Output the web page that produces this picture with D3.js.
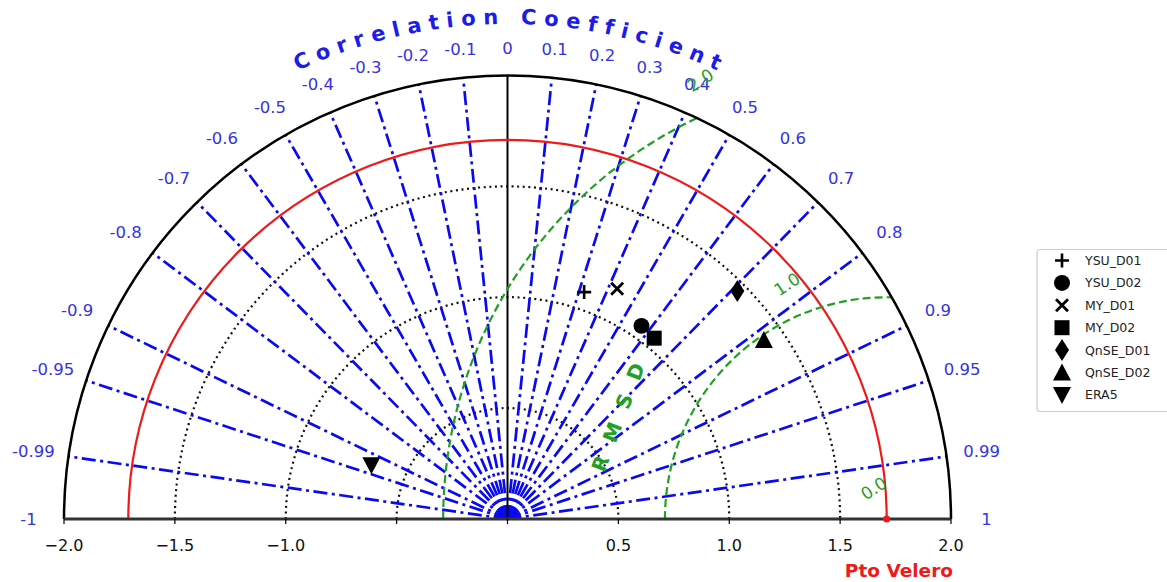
<!DOCTYPE html>
<html><head><meta charset="utf-8">
<script src="https://cdn.jsdelivr.net/npm/d3@7"></script>
<style>body{margin:0;background:#fff}svg{display:block}text{font-family:"DejaVu Sans",sans-serif}</style>
</head><body><svg id="c" width="1167" height="582"></svg>
<script>
// ---------------- data ----------------
const modelNames = ["YSU_D01","YSU_D02","MY_D01","MY_D02","QnSE_D01","QnSE_D02","ERA5"];
const modelMarkers = ["plus","circle","times","square","diamond","triangleUp","triangleDown"];
const modelStd = [1.08,1.06,1.15,1.05,1.46,1.41,0.66];
const modelCorr = [0.32,0.57,0.43,0.63,0.71,0.82,-0.93];
const corrTicks = [-1,-0.99,-0.95,-0.9,-0.8,-0.7,-0.6,-0.5,-0.4,-0.3,-0.2,-0.1,0,0.1,0.2,0.3,0.4,0.5,0.6,0.7,0.8,0.9,0.95,0.99,1];
const stdTicks = [-2,-1.5,-1,-0.5,0,0.5,1,1.5,2];
const stdTickLabels = ["−2.0","−1.5","−1.0","","","0.5","1.0","1.5","2.0"];
const stdGrid = [0.5,1.0,1.5];
const stdMax = 2.0;
const refStd = 1.71;
const refName = "Pto Velero";
const rmsdContours = [1.0,2.0];
const rmsdLabelValues = [0.0,1.0,2.0];
const rmsdLabelTexts = ["0.0","1.0","2.0"];
const axisTitle = "Correlation Coefficient";
const rmsdTitle = "RMSD";

// ---------------- setup ----------------
const svg = d3.select("#c");
const x = d3.scaleLinear().domain([-2,2]).range([64,951]);
const y = d3.scaleLinear().domain([0,2]).range([519,75.5]);
const cx = x(0), cy = y(0);
const R = v => x(v) - x(0);   // radius in px for a std value
const px = (s,c) => x(s*c);
const py = (s,c) => y(s*Math.sqrt(Math.max(0,1-c*c)));

const BLUE = "#0a0af0", BLUE_T = "#3434e4", GREEN = "#22a022", RED = "#ee1a1a";

function semicircle(r){ const p=d3.path(); p.moveTo(cx-R(r),cy); p.arc(cx,cy,R(r),Math.PI,2*Math.PI); return p.toString(); }

// std dotted arcs
svg.selectAll("path.sg").data(stdGrid).join("path").attr("class","sg")
  .attr("d",semicircle).attr("fill","none").attr("stroke","#111")
  .attr("stroke-width",2.2).attr("stroke-dasharray","2,3.6");

// correlation lines
svg.selectAll("line.cl").data(corrTicks.filter(c=>Math.abs(c)<1 && c!==0)).join("line").attr("class","cl")
  .attr("x1",cx).attr("y1",cy).attr("x2",c=>px(stdMax,c)).attr("y2",c=>py(stdMax,c))
  .attr("stroke",BLUE).attr("stroke-width",2.7).attr("stroke-dasharray","14,4.5,3,4.5");
svg.append("line").attr("x1",cx).attr("y1",cy).attr("x2",px(stdMax,0)).attr("y2",py(stdMax,0))
  .attr("stroke","#000").attr("stroke-width",2);

// reference arc
svg.append("path").attr("d",semicircle(refStd)).attr("fill","none").attr("stroke",RED).attr("stroke-width",2.2);

// RMSD contours
const rx = x(refStd);
svg.selectAll("path.rm").data(rmsdContours).join("path").attr("class","rm")
  .attr("d",r=>{
    const xi=(refStd*refStd+stdMax*stdMax-r*r)/(2*refStd);
    const yi=Math.sqrt(stdMax*stdMax-xi*xi);
    const th=Math.atan2(yi, xi-refStd);
    const p=d3.path(); p.moveTo(rx-R(r),cy); p.arc(rx,cy,R(r),Math.PI,2*Math.PI-th); return p.toString();})
  .attr("fill","none").attr("stroke",GREEN).attr("stroke-width",2.2).attr("stroke-dasharray","8,4");

// outer arc
svg.append("path").attr("d",semicircle(stdMax)).attr("fill","none").attr("stroke","#000").attr("stroke-width",2.5);

// baseline axis
svg.append("line").attr("x1",x(-2)).attr("x2",x(2)).attr("y1",cy).attr("y2",cy).attr("stroke","#333").attr("stroke-width",3);
svg.selectAll("line.tk").data(stdTicks).join("line").attr("class","tk")
  .attr("x1",d=>x(d)).attr("x2",d=>x(d)).attr("y1",cy).attr("y2",cy+5).attr("stroke","#000").attr("stroke-width",1.2);
svg.selectAll("text.tl").data(stdTicks).join("text").attr("class","tl")
  .attr("x",d=>x(d)).attr("y",551).attr("text-anchor","middle").attr("font-size",16).attr("fill","#111")
  .text((d,i)=>stdTickLabels[i]);

// ref point + label
svg.append("circle").attr("cx",rx).attr("cy",cy).attr("r",3.5).attr("fill",RED);
svg.append("text").attr("x",953).attr("y",577).attr("text-anchor","end").attr("font-size",18.5)
  .attr("font-weight","bold").attr("fill",RED).text(refName);

// correlation labels
const labR = c => (471 + 8*Math.abs(c)) / R(1);
svg.selectAll("text.cr").data(corrTicks).join("text").attr("class","cr")
  .attr("x",c=>px(labR(c),c)).attr("y",c=>py(labR(c),c)).attr("text-anchor","middle").attr("dominant-baseline","central")
  .attr("font-size",16.5).attr("fill",BLUE_T).text(c=>String(c));

// curved title: each character placed along an arc (as in the original)
const tr = 495, tSize = 21, tSpace = 7.5;
const chars = axisTitle.split("");
const meas = svg.append("text").attr("font-size",tSize).attr("font-weight","bold").attr("visibility","hidden");
const widths = chars.map(ch => { meas.text(ch===" "?"\u00a0":ch); return meas.node().getComputedTextLength(); });
meas.remove();
const totalL = d3.sum(widths) + tSpace*(chars.length-1);
let acc = 0;
const charPos = chars.map((ch,i)=>{ const s = acc + widths[i]/2; acc += widths[i] + tSpace; return {ch, s}; });
const tg = svg.append("g").attr("class","title");
tg.selectAll("text").data(charPos.filter(d=>d.ch!==" ")).join("text")
  .attr("transform",d=>{
    const th = Math.PI/2 + (totalL/2 - d.s)/tr;
    const tx = cx + tr*Math.cos(th), ty = cy - tr*Math.sin(th);
    return `translate(${tx},${ty}) rotate(${90 - th*180/Math.PI})`;})
  .attr("text-anchor","middle").attr("font-size",tSize).attr("font-weight","bold").attr("fill","#1c1ce6")
  .text(d=>d.ch);

// RMSD labels
const la = 113*Math.PI/180;
svg.selectAll("text.rl").data(rmsdLabelValues).join("text").attr("class","rl")
  .attr("transform",v=>{const r=v+0.15; return `translate(${x(refStd+r*Math.cos(la))},${y(r*Math.sin(la))}) rotate(-33)`;})
  .attr("text-anchor","middle").attr("dominant-baseline","central").attr("font-size",17).attr("fill",GREEN)
  .text((v,i)=>rmsdLabelTexts[i]);
svg.append("text").attr("transform","translate(621,410) rotate(-69)").attr("text-anchor","middle")
  .attr("dominant-baseline","central").attr("font-size",20).attr("font-weight","bold").attr("fill",GREEN)
  .attr("letter-spacing",16).text(rmsdTitle);

// markers
function markerPath(t){
  switch(t){
    case "plus": return "M-7,0H7M0,-7V7";
    case "times": return "M-6,-6L6,6M-6,6L6,-6";
    case "circle": return d3.symbol(d3.symbolCircle,200)();
    case "square": return "M-7.5,-7.5H7.5V7.5H-7.5Z";
    case "diamond": return "M0,-11L7,0L0,11L-7,0Z";
    case "triangleUp": return "M0,-9L9,8L-9,8Z";
    case "triangleDown": return "M0,9L9,-8L-9,-8Z";
  }
}
const stroked = t => t==="plus"||t==="times";
function styleMarker(sel){
  sel.attr("d",d=>markerPath(d.m))
    .attr("fill",d=>stroked(d.m)?"none":"#000")
    .attr("stroke",d=>stroked(d.m)?"#000":"none")
    .attr("stroke-width",d=>d.m==="times"?2.8:2.6);
}
const pts = modelNames.map((n,i)=>({n,m:modelMarkers[i],s:modelStd[i],c:modelCorr[i]}));
svg.selectAll("path.mk").data(pts).join("path").attr("class","mk")
  .attr("transform",d=>`translate(${px(d.s,d.c)},${py(d.s,d.c)})`).call(styleMarker);

// legend
const lg = svg.append("g");
lg.append("rect").attr("x",1037).attr("y",249.5).attr("width",140).attr("height",162).attr("rx",3)
  .attr("fill","#fff").attr("stroke","#ccc").attr("stroke-width",1.2);
const ly = i => 260.5 + i*22.4;
lg.selectAll("path").data(pts).join("path")
  .attr("transform",(d,i)=>`translate(1062,${ly(i)})`).call(styleMarker);
lg.selectAll("text").data(pts).join("text").attr("x",1085).attr("y",(d,i)=>ly(i))
  .attr("dominant-baseline","central").attr("font-size",12.5).attr("fill","#222").text(d=>d.n);
</script></body></html>
